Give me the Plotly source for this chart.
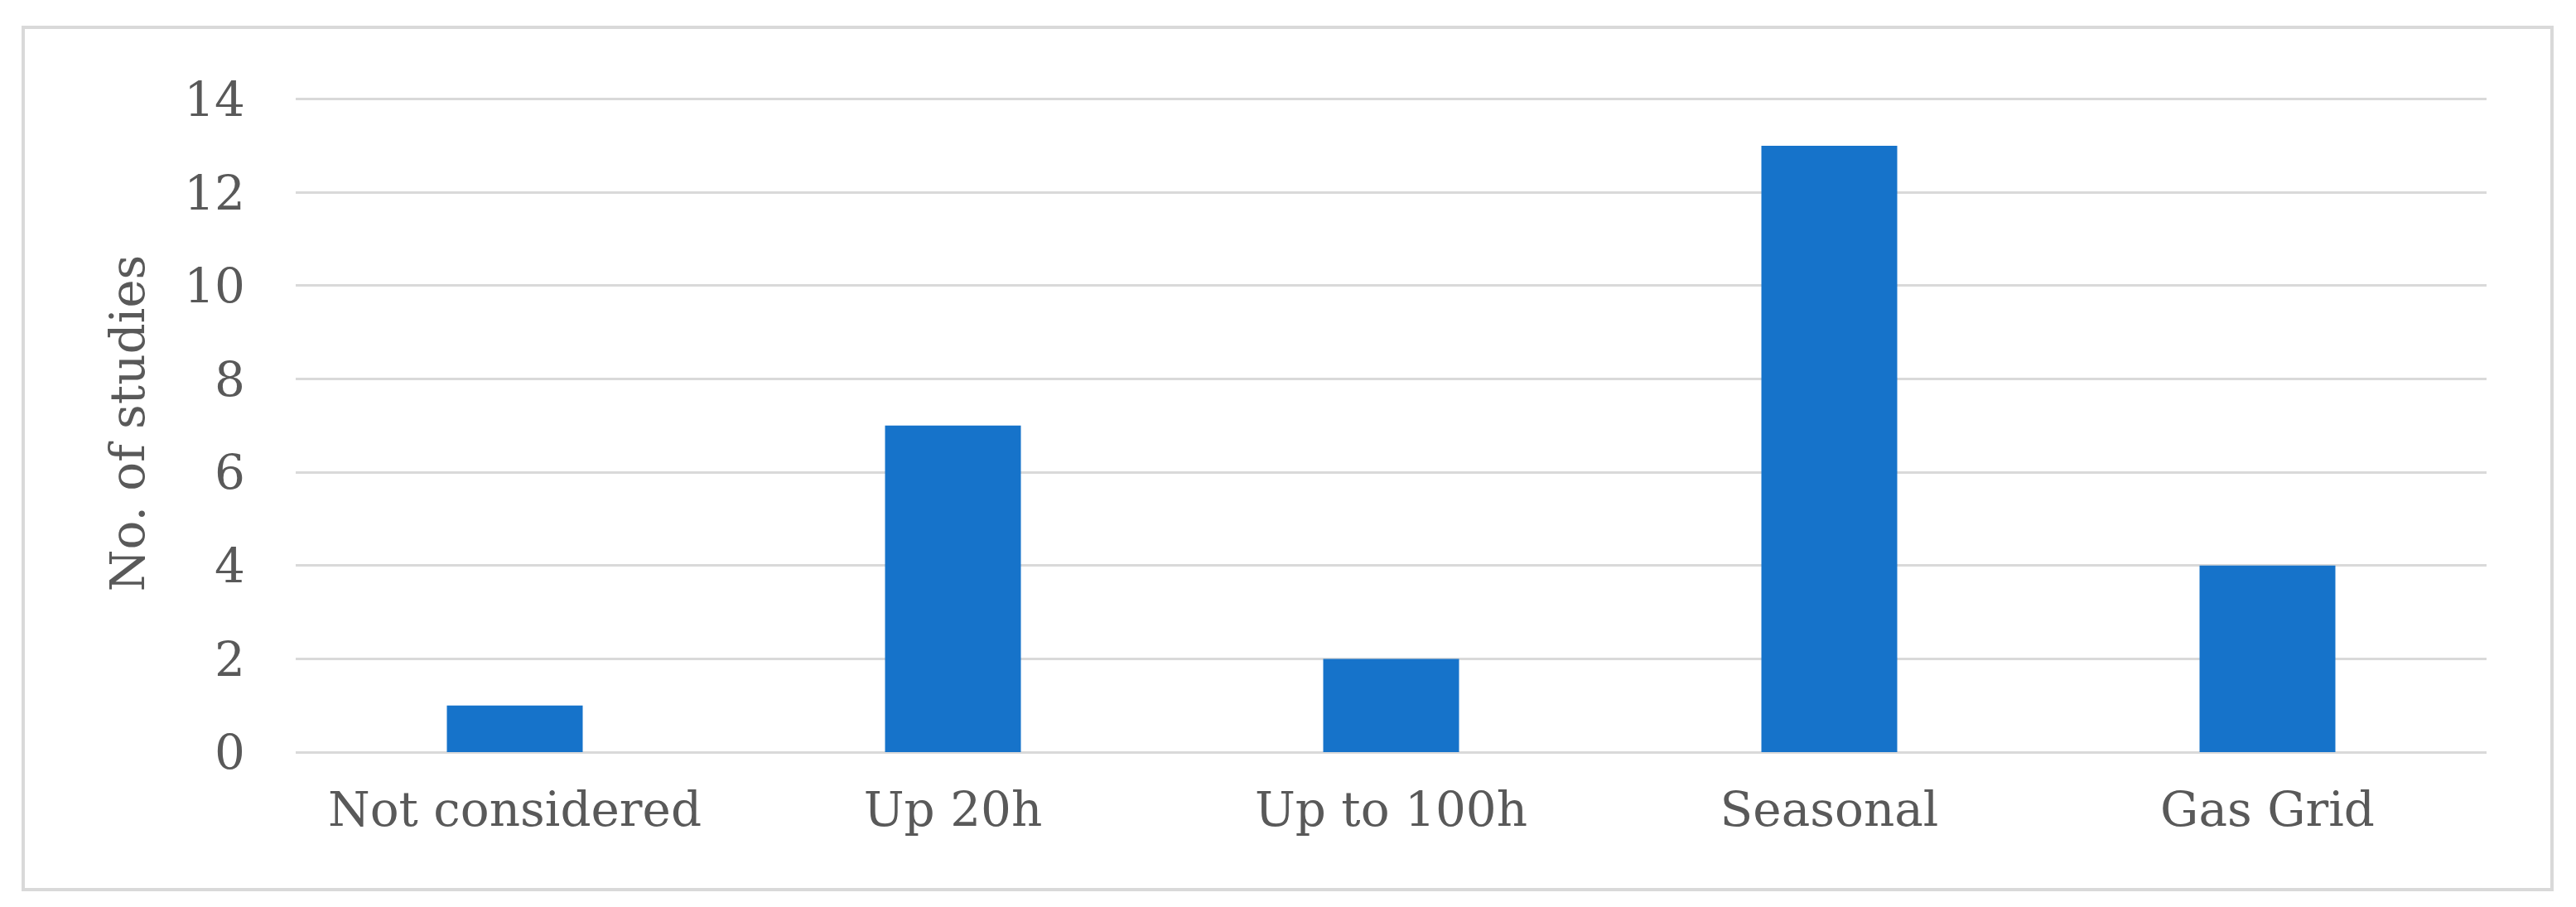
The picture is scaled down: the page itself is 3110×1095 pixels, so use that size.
import plotly.graph_objects as go

categories = ["Not considered", "Up 20h", "Up to 100h", "Seasonal", "Gas Grid"]
studies = [1, 7, 2, 13, 4]
y_ticks = [0, 2, 4, 6, 8, 10, 12, 14]

W, H = 3110, 1095
# plot area in pixels (range top padded a little so the 14 gridline shows)
L, R, T, B = 349, 2994, 106, 900
text_col = "#595959"
grid_col = "#d9d9d9"
font_family = "DejaVu Serif"
fsize = 58

fig = go.Figure()
fig.add_trace(go.Bar(
    x=categories, y=studies,
    marker=dict(color="#1673ca", line=dict(width=0)),
    hoverinfo="none"
))

pw, ph = R - L, B - T


def px_x(x):
    return (x - L) / pw


def px_y(y):
    return (B - y) / ph


# outer light grey frame around the chart
fig.add_shape(type="rect", xref="paper", yref="paper",
              x0=px_x(20), x1=px_x(3073), y0=px_y(1066), y1=px_y(25),
              line=dict(color="#d9d9d9", width=4), fillcolor="rgba(0,0,0,0)",
              layer="below")

fig.update_layout(
    width=W, height=H,
    margin=dict(l=L, r=W - R, t=T, b=H - B, pad=0),
    plot_bgcolor="white", paper_bgcolor="white",
    bargap=0.69,
    showlegend=False,
    font=dict(family=font_family, color=text_col, size=fsize),
    xaxis=dict(
        showgrid=False, showline=False, zeroline=False,
        tickfont=dict(size=fsize, color=text_col),
        ticks="", ticklabelstandoff=30,
    ),
    yaxis=dict(
        range=[0, 14.1], tickvals=y_ticks,
        showgrid=True, gridcolor=grid_col, gridwidth=3,
        zeroline=True, zerolinecolor=grid_col, zerolinewidth=3,
        showline=False, ticks="",
        tickfont=dict(size=fsize, color=text_col),
        ticklabelstandoff=60,
        title=dict(text="No. of studies", font=dict(size=fsize, color=text_col),
                   standoff=28),
    ),
)

fig.write_html("out.html")
